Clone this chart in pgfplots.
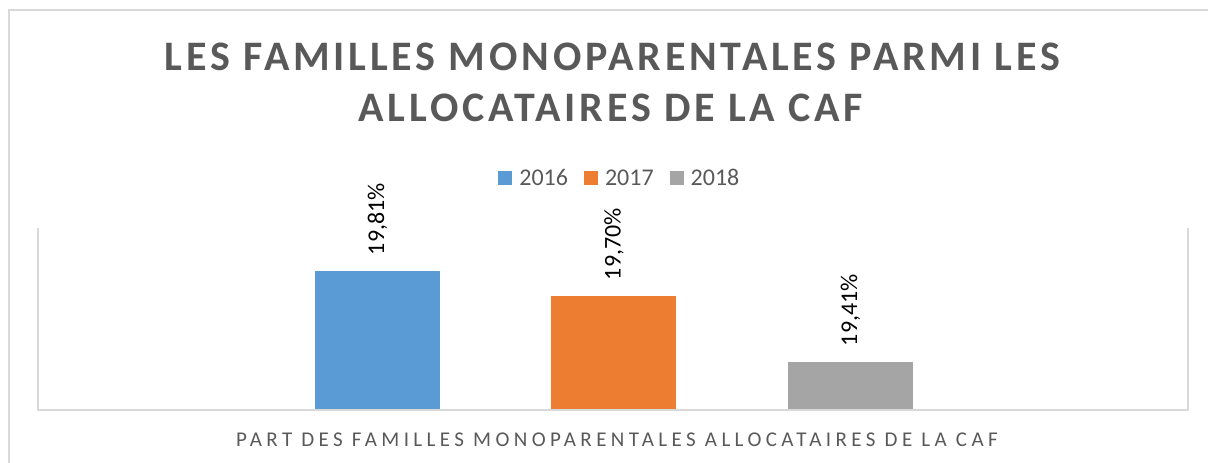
\documentclass[border=0pt]{standalone}
\usepackage{pgfplots}
\pgfplotsset{compat=1.18}
\usepackage{fontspec}
\setmainfont{Carlito}
\newfontfamily\titlefont[LetterSpace=9]{Carlito}
\newfontfamily\labfont[LetterSpace=21]{Carlito}
\definecolor{c16}{HTML}{5B9BD5}
\definecolor{c17}{HTML}{ED7D31}
\definecolor{c18}{HTML}{A5A5A5}
\definecolor{txt}{HTML}{595959}
\definecolor{frame}{HTML}{D9D9D9}
\begin{document}
\begin{tikzpicture}[x=1pt,y=1pt]
\useasboundingbox (0,0) rectangle (1208,463);
% chart border
\draw[frame, line width=2pt] (9,-10) -- (9,453) -- (1220,453);
% title
\node[anchor=base, text=txt, font=\titlefont\bfseries\fontsize{42}{50}\selectfont, inner sep=0]
  at (612.5,392) {LES FAMILLES MONOPARENTALES PARMI LES};
\node[anchor=base, text=txt, font=\titlefont\bfseries\fontsize{42}{50}\selectfont, inner sep=0]
  at (611,341) {ALLOCATAIRES DE LA CAF};
\begin{axis}[at={(38pt,53pt)}, anchor=south west, scale only axis,
  width=1150pt, height=182pt,
  xmin=-1.4355, xmax=3.427, ymin=19.2, ymax=20,
  hide axis, ybar, bar width=125pt, bar shift=0pt,
  nodes near coords={\pgfmathprintnumber[fixed,fixed zerofill,precision=2,use comma,assume math mode=true]{\pgfplotspointmeta}\%},
  every node near coord/.append style={rotate=90, anchor=west, inner xsep=16pt, text=black,
    font=\fontsize{24}{28}\selectfont},
  legend columns=3,
  legend style={at={(0.506,1.2747)}, anchor=center, draw=none, fill=none,
    font=\fontsize{24}{28}\selectfont, text=txt,
    /tikz/every odd column/.append style={column sep=5pt},
    /tikz/every even column/.append style={column sep=14pt}},
  legend image code/.code={\fill[#1, draw=none] (0pt,-7pt) rectangle (14pt,7pt);},
  clip=false]
\addplot[fill=c16, draw=none] coordinates {(0,19.81)};
\addlegendentry{2016}
\addplot[fill=c17, draw=none] coordinates {(1,19.70)};
\addlegendentry{2017}
\addplot[fill=c18, draw=none] coordinates {(2,19.41)};
\addlegendentry{2018}
\draw[frame, line width=2pt] (rel axis cs:0,1) -- (rel axis cs:0,0) -- (rel axis cs:1,0) -- (rel axis cs:1,1);
\end{axis}
\node[anchor=base, text=txt, font=\labfont\fontsize{21}{25}\selectfont, inner sep=0]
  at (617,16) {PART DES FAMILLES MONOPARENTALES ALLOCATAIRES DE LA CAF};
\end{tikzpicture}
\end{document}
